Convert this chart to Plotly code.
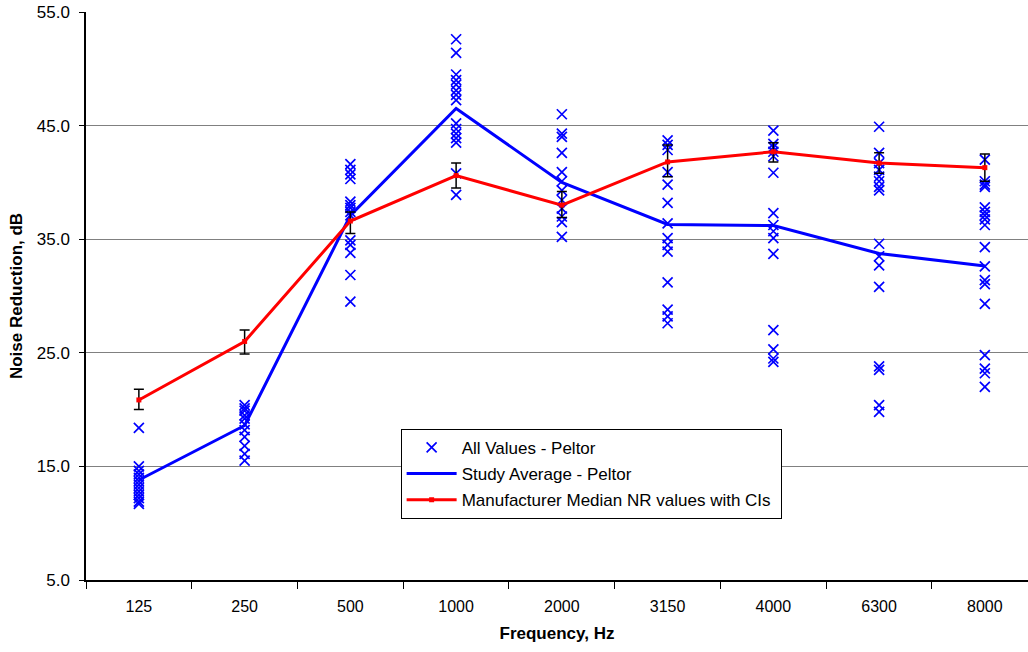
import plotly.graph_objects as go

# Octave-band centre frequencies (category axis)
freqs = ["125", "250", "500", "1000", "2000", "3150", "4000", "6300", "8000"]

# Individual noise-reduction measurements (dB) per band - Peltor
nr_125 = [18.4, 15.0, 14.6, 14.3, 14.0, 13.7, 13.4, 13.1, 12.8, 12.5, 12.2, 11.9, 11.7]
nr_250 = [20.4, 20.1, 19.9, 19.5, 19.2, 18.7, 18.2, 17.6, 16.8, 16.1, 15.5]
nr_500 = [41.6, 41.1, 40.7, 40.3, 38.3, 38.0, 37.75, 37.4, 37.1, 34.9, 34.5, 33.8, 31.85, 29.5]
nr_1000 = [52.6, 51.4, 49.5, 49.0, 48.6, 48.1, 47.7, 47.25, 45.2, 44.7, 44.3, 43.9, 43.5, 40.8, 38.9]
nr_2000 = [46.0, 44.3, 44.0, 42.6, 40.9, 40.1, 39.3, 38.45, 37.7, 37.0, 36.5, 35.2]
nr_3150 = [43.7, 43.3, 42.85, 40.9, 39.8, 38.2, 36.4, 35.1, 34.5, 33.9, 31.2, 28.8, 28.2, 27.6]
nr_4000 = [44.55, 43.4, 43.1, 42.7, 42.3, 40.85, 37.3, 36.25, 35.7, 35.1, 33.7, 27.0, 25.3, 24.5, 24.2]
nr_6300 = [44.9, 42.6, 41.7, 41.1, 40.5, 40.1, 39.6, 39.3, 34.6, 33.5, 32.7, 30.8, 23.8, 23.5, 20.4, 19.8]
nr_8000 = [42.0, 40.1, 39.8, 39.6, 37.8, 37.4, 37.1, 36.75, 36.25, 34.3, 32.6, 31.4, 31.05, 29.3, 24.8, 23.6, 23.2, 22.0]

# Study average per band
study_avg = [13.8, 18.6, 37.1, 46.5, 40.0, 36.3, 36.2, 33.75, 32.65]

# Manufacturer median NR and confidence limits
mfr_median = [20.85, 26.0, 36.6, 40.6, 38.0, 41.8, 42.7, 41.7, 41.3]
mfr_ci_upper = [21.8, 27.0, 37.4, 41.7, 39.2, 43.3, 43.5, 42.6, 42.5]
mfr_ci_lower = [20.0, 24.9, 35.5, 39.5, 36.9, 40.5, 41.8, 40.8, 40.1]

all_values = [nr_125, nr_250, nr_500, nr_1000, nr_2000, nr_3150, nr_4000, nr_6300, nr_8000]

scatter_x = []
scatter_y = []
for f, vals in zip(freqs, all_values):
    scatter_x.extend([f] * len(vals))
    scatter_y.extend(vals)

err_plus = [u - m for u, m in zip(mfr_ci_upper, mfr_median)]
err_minus = [m - l for m, l in zip(mfr_median, mfr_ci_lower)]

FONT = "Liberation Sans, Arial, sans-serif"

fig = go.Figure()

fig.add_trace(go.Scatter(
    x=scatter_x, y=scatter_y, mode="markers",
    name="All Values - Peltor", legendgroup="a",
    marker=dict(symbol="x-thin", size=10, line=dict(color="#0000FF", width=1.7), color="#0000FF"),
))

fig.add_trace(go.Scatter(
    x=freqs, y=study_avg, mode="lines",
    name="Study Average - Peltor", legendgroup="b",
    line=dict(color="#0000FF", width=3),
))

fig.add_trace(go.Scatter(
    x=freqs, y=mfr_median, mode="lines+markers",
    name="Manufacturer Median NR values with CIs ", legendgroup="c",
    line=dict(color="#FF0000", width=3),
    marker=dict(symbol="square", size=5, color="#FF0000"),
    error_y=dict(type="data", symmetric=False, array=err_plus, arrayminus=err_minus,
                 color="black", thickness=1.5, width=5),
))

fig.update_layout(
    width=1028, height=652,
    margin=dict(l=86, r=0, t=12, b=72),
    paper_bgcolor="white", plot_bgcolor="white",
    font=dict(family=FONT, size=16, color="black"),
    showlegend=True,
    legend=dict(
        x=0.334, y=0.266, xanchor="left", yanchor="top",
        bgcolor="white", bordercolor="black", borderwidth=1,
        font=dict(family=FONT, size=17, color="black"),
        tracegroupgap=1, itemwidth=50,
    ),
    xaxis=dict(
        type="category", categoryorder="array", categoryarray=freqs,
        range=[-0.5, 8.408],
        tickson="boundaries", ticks="outside", ticklen=7, tickcolor="black",
        ticklabelstandoff=11,
        showline=True, linecolor="black", linewidth=1.5,
        showgrid=False, zeroline=False,
        tickfont=dict(family=FONT, size=16, color="black"),
        title=dict(text="<b>Frequency, Hz</b>", font=dict(family=FONT, size=17, color="black"), standoff=13),
    ),
    yaxis=dict(
        range=[5, 55], tickvals=[5, 15, 25, 35, 45, 55],
        ticktext=["5.0", "15.0", "25.0", "35.0", "45.0", "55.0"],
        ticks="outside", ticklen=5, tickcolor="black",
        ticklabelstandoff=6,
        showline=True, linecolor="black", linewidth=1.5,
        showgrid=True, gridcolor="#808080", gridwidth=1,
        zeroline=False,
        tickfont=dict(family=FONT, size=17, color="black"),
        title=dict(text="<b>Noise Reduction, dB</b>", font=dict(family=FONT, size=17, color="black"), standoff=10),
    ),
)

fig.write_html("out.html")
